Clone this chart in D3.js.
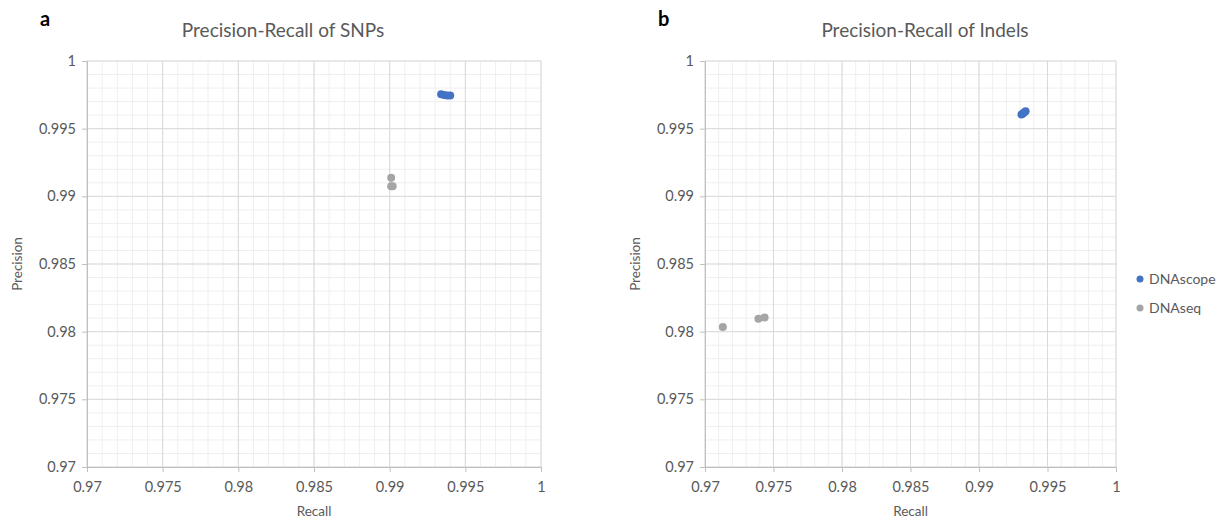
<!DOCTYPE html>
<html>
<head>
<meta charset="utf-8">
<script src="https://cdn.jsdelivr.net/npm/d3@7"></script>
<style>
  body { margin: 0; background: #fff; }
  svg text { font-family: Lato, "Open Sans", sans-serif; }
</style>
</head>
<body>
<svg id="chart" width="1228" height="521"></svg>
<script>
// ---- data ----
const seriesNames = ["DNAscope", "DNAseq"];
const seriesColors = ["#4472C4", "#A5A5A5"];

const snpScopeRecall = [0.9934, 0.9936, 0.9938, 0.9940];
const snpScopePrecision = [0.99755, 0.99748, 0.99745, 0.99745];
const snpSeqRecall = [0.9901, 0.9901, 0.9902];
const snpSeqPrecision = [0.99138, 0.99075, 0.99075];

const indelScopeRecall = [0.9931, 0.9932, 0.9933, 0.9934];
const indelScopePrecision = [0.99605, 0.99612, 0.9962, 0.99628];
const indelSeqRecall = [0.9713, 0.9739, 0.97435];
const indelSeqPrecision = [0.98035, 0.98095, 0.98105];

const tickValues = [0.97, 0.975, 0.98, 0.985, 0.99, 0.995, 1];

const panels = [
  { letter: "a", title: "Precision-Recall of SNPs",
    scope: [snpScopeRecall, snpScopePrecision], seq: [snpSeqRecall, snpSeqPrecision],
    x0: 87, x1: 541, titleX: 283 },
  { letter: "b", title: "Precision-Recall of Indels",
    scope: [indelScopeRecall, indelScopePrecision], seq: [indelSeqRecall, indelSeqPrecision],
    x0: 705, x1: 1116, titleX: 925 }
];

const svg = d3.select("#chart");
const textColor = "#595959";
const plotTop = 61, plotBottom = 467;

const fmt = d => String(+d.toFixed(3));

panels.forEach(p => {
  const x = d3.scaleLinear().domain([0.97, 1]).range([p.x0, p.x1]);
  const y = d3.scaleLinear().domain([0.97, 1]).range([plotBottom, plotTop]);
  const g = svg.append("g");

  // minor grid
  const minor = d3.range(0, 31).map(i => 0.97 + i * 0.001);
  g.selectAll(".mx").data(minor).join("line")
    .attr("x1", d => x(d)).attr("x2", d => x(d))
    .attr("y1", plotTop).attr("y2", plotBottom)
    .attr("stroke", "#efefef").attr("stroke-width", 1);
  g.selectAll(".my").data(minor).join("line")
    .attr("y1", d => y(d)).attr("y2", d => y(d))
    .attr("x1", p.x0).attr("x2", p.x1)
    .attr("stroke", "#efefef").attr("stroke-width", 1);

  // major grid
  g.selectAll(".Mx").data(tickValues).join("line")
    .attr("x1", d => x(d)).attr("x2", d => x(d))
    .attr("y1", plotTop).attr("y2", plotBottom)
    .attr("stroke", "#d9d9d9").attr("stroke-width", 1);
  g.selectAll(".My").data(tickValues).join("line")
    .attr("y1", d => y(d)).attr("y2", d => y(d))
    .attr("x1", p.x0).attr("x2", p.x1)
    .attr("stroke", "#d9d9d9").attr("stroke-width", 1);

  // axes
  const xAxis = g.append("g").attr("transform", `translate(0,${plotBottom})`)
    .call(d3.axisBottom(x).tickValues(tickValues).tickFormat(fmt).tickSize(5).tickPadding(7));
  const yAxis = g.append("g").attr("transform", `translate(${p.x0},0)`)
    .call(d3.axisLeft(y).tickValues(tickValues).tickFormat(fmt).tickSize(5).tickPadding(6));
  [xAxis, yAxis].forEach(a => {
    a.select(".domain").attr("stroke", "#bfbfbf");
    a.selectAll(".tick line").attr("stroke", "#bfbfbf");
    a.selectAll(".tick text").attr("fill", textColor)
      .style("font-size", "14.5px");
  });
  xAxis.selectAll(".tick text").attr("dy", "0.9em");

  // points
  const drawSeries = (arr, color) => {
    const pts = arr[0].map((r, i) => ({ r, p: arr[1][i] }));
    g.selectAll(null).data(pts).join("circle")
      .attr("cx", d => x(d.r)).attr("cy", d => y(d.p))
      .attr("r", 4).attr("fill", color);
  };
  drawSeries(p.seq, seriesColors[1]);
  drawSeries(p.scope, seriesColors[0]);

  // titles
  const mid = (p.x0 + p.x1) / 2;
  g.append("text").attr("x", p.titleX).attr("y", 37)
    .attr("text-anchor", "middle").attr("fill", textColor)
    .style("font-size", "19px").text(p.title);
  g.append("text").attr("x", mid).attr("y", 516)
    .attr("text-anchor", "middle").attr("fill", textColor)
    .style("font-size", "13.5px").text("Recall");
  g.append("text")
    .attr("transform", `translate(${p.x0 - 65},${(plotTop + plotBottom) / 2}) rotate(-90)`)
    .attr("text-anchor", "middle").attr("fill", textColor)
    .style("font-size", "13.5px").text("Precision");
  g.append("text").attr("x", p.x0 - 47).attr("y", 26)
    .attr("fill", "#000").style("font-size", "20px").style("font-weight", "bold")
    .text(p.letter);
});

// legend
const legend = svg.append("g").attr("transform", "translate(1140,279)");
const items = legend.selectAll("g").data(seriesNames).join("g")
  .attr("transform", (d, i) => `translate(0,${i * 29})`);
items.append("circle").attr("r", 3.5).attr("fill", (d, i) => seriesColors[i]);
items.append("text").attr("x", 9).attr("dy", "0.35em")
  .attr("fill", textColor).style("font-size", "14px").text(d => d);
</script>
</body>
</html>
